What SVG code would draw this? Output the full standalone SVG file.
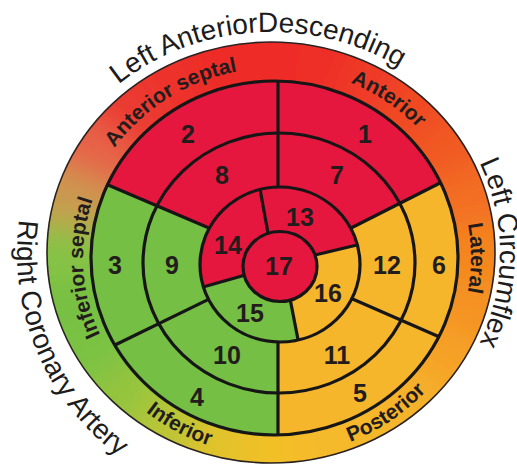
<svg xmlns="http://www.w3.org/2000/svg" width="517" height="466" viewBox="0 0 517 466">
<defs>
<style>
.red{fill:#e6173f}
.grn{fill:#74bf44}
.yel{fill:#f5b62c}
.ln{fill:none;stroke:#161616;stroke-width:3.2}
.num{font-family:"Liberation Sans",Arial,sans-serif;font-weight:bold;font-size:25px;fill:#231c1c;text-anchor:middle}
.lbl{font-family:"Liberation Sans",Arial,sans-serif;font-weight:bold;font-size:21px;fill:#231c1c;text-anchor:middle}
.art{font-family:"Liberation Sans",Arial,sans-serif;font-size:28px;fill:#1c1c1c}
</style>
<filter id="blur" x="-20%" y="-20%" width="140%" height="140%"><feGaussianBlur stdDeviation="16"/></filter>
<clipPath id="cOuter"><ellipse cx="271" cy="252.5" rx="224" ry="210.5"/></clipPath>
<clipPath id="cR1"><ellipse cx="274.5" cy="258" rx="183.5" ry="177"/></clipPath>
<clipPath id="cR2"><ellipse cx="279" cy="263" rx="136" ry="130"/></clipPath>
<clipPath id="cR3"><ellipse cx="280" cy="264.5" rx="80" ry="77.5"/></clipPath>
<path id="pLAD" d="M66.6,142.5 A236,221 0 0 1 475.4,142.5"/>
<path id="pLCX" d="M385.5,64.2 A229,218 0 0 1 385.5,441.8"/>
<path id="pRCA" d="M25.7,187.3 A254,254 0 0 0 184.1,491.7"/>
<path id="pAS" d="M86.6,202.4 A196.5,190 0 0 1 298.4,69.4"/>
<path id="pAN" d="M291.6,68.7 A196.5,190 0 0 1 452.6,177.7"/>
<path id="pLA" d="M444.7,163 A196.5,190 0 0 1 444.7,353"/>
<path id="pIS" d="M134.4,384.2 A191.5,185 0 0 1 121.6,146.7"/>
<path id="pIN" d="M90.7,344.8 A204.5,198 0 0 0 295.9,454.9"/>
<path id="pPO" d="M274.5,456 A204.5,198 0 0 0 466.7,325.7"/>
</defs>
<rect width="517" height="466" fill="#ffffff"/>

<g id="band">
<g clip-path="url(#cOuter)">
<g filter="url(#blur)">
<polygon fill="#f4851f" points="271,253 588.3,294.8 588.3,211.2"/>
<polygon fill="#f36e21" points="271,253 588.3,211.2 566.6,130.5"/>
<polygon fill="#f15a23" points="271,253 566.6,130.5 524.9,58.2"/>
<polygon fill="#f04a24" points="271,253 524.9,58.2 465.8,-0.9"/>
<polygon fill="#ef3a25" points="271,253 465.8,-0.9 393.5,-42.6"/>
<polygon fill="#ee2f25" points="271,253 393.5,-42.6 312.8,-64.3"/>
<polygon fill="#ee2a26" points="271,253 312.8,-64.3 229.2,-64.3"/>
<polygon fill="#ed2b27" points="271,253 229.2,-64.3 148.5,-42.6"/>
<polygon fill="#ec3029" points="271,253 148.5,-42.6 76.2,-0.9"/>
<polygon fill="#ea3a32" points="271,253 76.2,-0.9 17.1,58.2"/>
<polygon fill="#e6644a" points="271,253 17.1,58.2 -24.6,130.5"/>
<polygon fill="#c99a50" points="271,253 -24.6,130.5 -46.3,211.2"/>
<polygon fill="#86c244" points="271,253 -46.3,211.2 -46.3,294.8"/>
<polygon fill="#76c043" points="271,253 -46.3,294.8 -24.6,375.5"/>
<polygon fill="#7cc242" points="271,253 -24.6,375.5 17.1,447.8"/>
<polygon fill="#96c43d" points="271,253 17.1,447.8 76.2,506.9"/>
<polygon fill="#bcc536" points="271,253 76.2,506.9 148.5,548.6"/>
<polygon fill="#e2c22c" points="271,253 148.5,548.6 229.2,570.3"/>
<polygon fill="#f2bf28" points="271,253 229.2,570.3 312.8,570.3"/>
<polygon fill="#f5ba29" points="271,253 312.8,570.3 393.5,548.6"/>
<polygon fill="#f5b72a" points="271,253 393.5,548.6 465.8,506.9"/>
<polygon fill="#f5b02a" points="271,253 465.8,506.9 524.9,447.8"/>
<polygon fill="#f5a126" points="271,253 524.9,447.8 566.6,375.5"/>
<polygon fill="#f49222" points="271,253 566.6,375.5 588.3,294.8"/>
</g>
</g>
<ellipse cx="271" cy="252.5" rx="224" ry="210.5" fill="none" stroke="#2a2220" stroke-width="1.6"/>
</g>

<g id="seg1"><polygon class="red" clip-path="url(#cR1)" points="278,262 278,187 278,-10 540,-10 540,132.4 350.6,228.2"/><text class="num" x="365" y="143">1</text></g>
<g id="seg2"><polygon class="red" clip-path="url(#cR1)" points="278,262 209,228 -10,134.8 -10,-10 278,-10 278,187"/><text class="num" x="188" y="143">2</text></g>
<g id="seg3"><polygon class="grn" clip-path="url(#cR1)" points="278,262 208.5,299.4 -10,405.8 -10,134.8 209,228"/><text class="num" x="115" y="274">3</text></g>
<g id="seg4"><polygon class="grn" clip-path="url(#cR1)" points="278,262 278,342 278,480 -10,480 -10,405.8 208.5,299.4"/><text class="num" x="197" y="406">4</text></g>
<g id="seg5"><polygon class="yel" clip-path="url(#cR1)" points="278,262 352,298.7 540,380.8 540,480 278,480 278,342"/><text class="num" x="360" y="402">5</text></g>
<g id="seg6"><polygon class="yel" clip-path="url(#cR1)" points="278,262 350.6,228.2 540,132.4 540,380.8 352,298.7"/><text class="num" x="439" y="274">6</text></g>

<g id="seg7"><polygon class="red" clip-path="url(#cR2)" points="278,262 278,187 278,-10 540,-10 540,132.4 350.6,228.2"/><text class="num" x="337" y="184">7</text></g>
<g id="seg8"><polygon class="red" clip-path="url(#cR2)" points="278,262 209,228 -10,134.8 -10,-10 278,-10 278,187"/><text class="num" x="222" y="184">8</text></g>
<g id="seg9"><polygon class="grn" clip-path="url(#cR2)" points="278,262 208.5,299.4 -10,405.8 -10,134.8 209,228"/><text class="num" x="172" y="274">9</text></g>
<g id="seg10"><polygon class="grn" clip-path="url(#cR2)" points="278,262 278,342 278,480 -10,480 -10,405.8 208.5,299.4"/><text class="num" x="227" y="364">10</text></g>
<g id="seg11"><polygon class="yel" clip-path="url(#cR2)" points="278,262 352,298.7 540,380.8 540,480 278,480 278,342"/><text class="num" x="337" y="364">11</text></g>
<g id="seg12"><polygon class="yel" clip-path="url(#cR2)" points="278,262 350.6,228.2 540,132.4 540,380.8 352,298.7"/><text class="num" x="387" y="274">12</text></g>

<g id="seg13"><polygon class="red" clip-path="url(#cR3)" points="280,266 268,233 252,145 400,145 400,234.8 315,255"/><text class="num" x="300" y="226">13</text></g>
<g id="seg14"><polygon class="red" clip-path="url(#cR3)" points="280,266 244.5,275.3 150,301.9 150,145 252,145 268,233"/><text class="num" x="228" y="254">14</text></g>
<g id="seg15"><polygon class="grn" clip-path="url(#cR3)" points="280,266 290.3,300 309.8,400 150,400 150,301.9 244.5,275.3"/><text class="num" x="250" y="322">15</text></g>
<g id="seg16"><polygon class="yel" clip-path="url(#cR3)" points="280,266 315,255 400,234.8 400,400 309.8,400 290.3,300"/><text class="num" x="328" y="302">16</text></g>
<g id="seg17"><ellipse class="red" cx="280" cy="266.5" rx="37" ry="35"/><text class="num" x="279" y="275">17</text></g>

<g id="connectors" class="ln">
<line x1="278" y1="187" x2="278" y2="81"/>
<line x1="350.6" y1="228.2" x2="441" y2="182.5"/>
<line x1="352" y1="298.7" x2="439" y2="336.7"/>
<line x1="278" y1="342" x2="278" y2="435"/>
<line x1="208.5" y1="299.4" x2="114.5" y2="345.2"/>
<line x1="209" y1="228" x2="107.5" y2="184.8"/>
<line x1="268" y1="233" x2="260" y2="189"/>
<line x1="315" y1="255" x2="357" y2="245"/>
<line x1="244.5" y1="275.3" x2="203" y2="287"/>
<line x1="290.3" y1="300" x2="298" y2="339.5"/>
<ellipse cx="274.5" cy="258" rx="183.5" ry="177"/>
<ellipse cx="279" cy="263" rx="136" ry="130"/>
<ellipse cx="280" cy="264.5" rx="80" ry="77.5"/>
<ellipse cx="280" cy="266.5" rx="37" ry="35"/>
</g>

<g id="wall-labels">
<text class="lbl"><textPath href="#pAS" startOffset="50%">Anterior septal</textPath></text>
<text class="lbl"><textPath href="#pAN" startOffset="50%">Anterior</textPath></text>
<text class="lbl"><textPath href="#pLA" startOffset="50%">Lateral</textPath></text>
<text class="lbl"><textPath href="#pIS" startOffset="50%">Inferior septal</textPath></text>
<text class="lbl"><textPath href="#pIN" startOffset="50%">Inferior</textPath></text>
<text class="lbl"><textPath href="#pPO" startOffset="50%">Posterior</textPath></text>
</g>

<g id="artery-labels">
<text class="art" text-anchor="middle"><textPath href="#pLAD" startOffset="47%">Left AnteriorDescending</textPath></text>
<text class="art" text-anchor="middle"><textPath href="#pLCX" startOffset="50%">Left Circumflex</textPath></text>
<text class="art"><textPath href="#pRCA" startOffset="33">Right Coronary Artery</textPath></text>
</g>
</svg>
